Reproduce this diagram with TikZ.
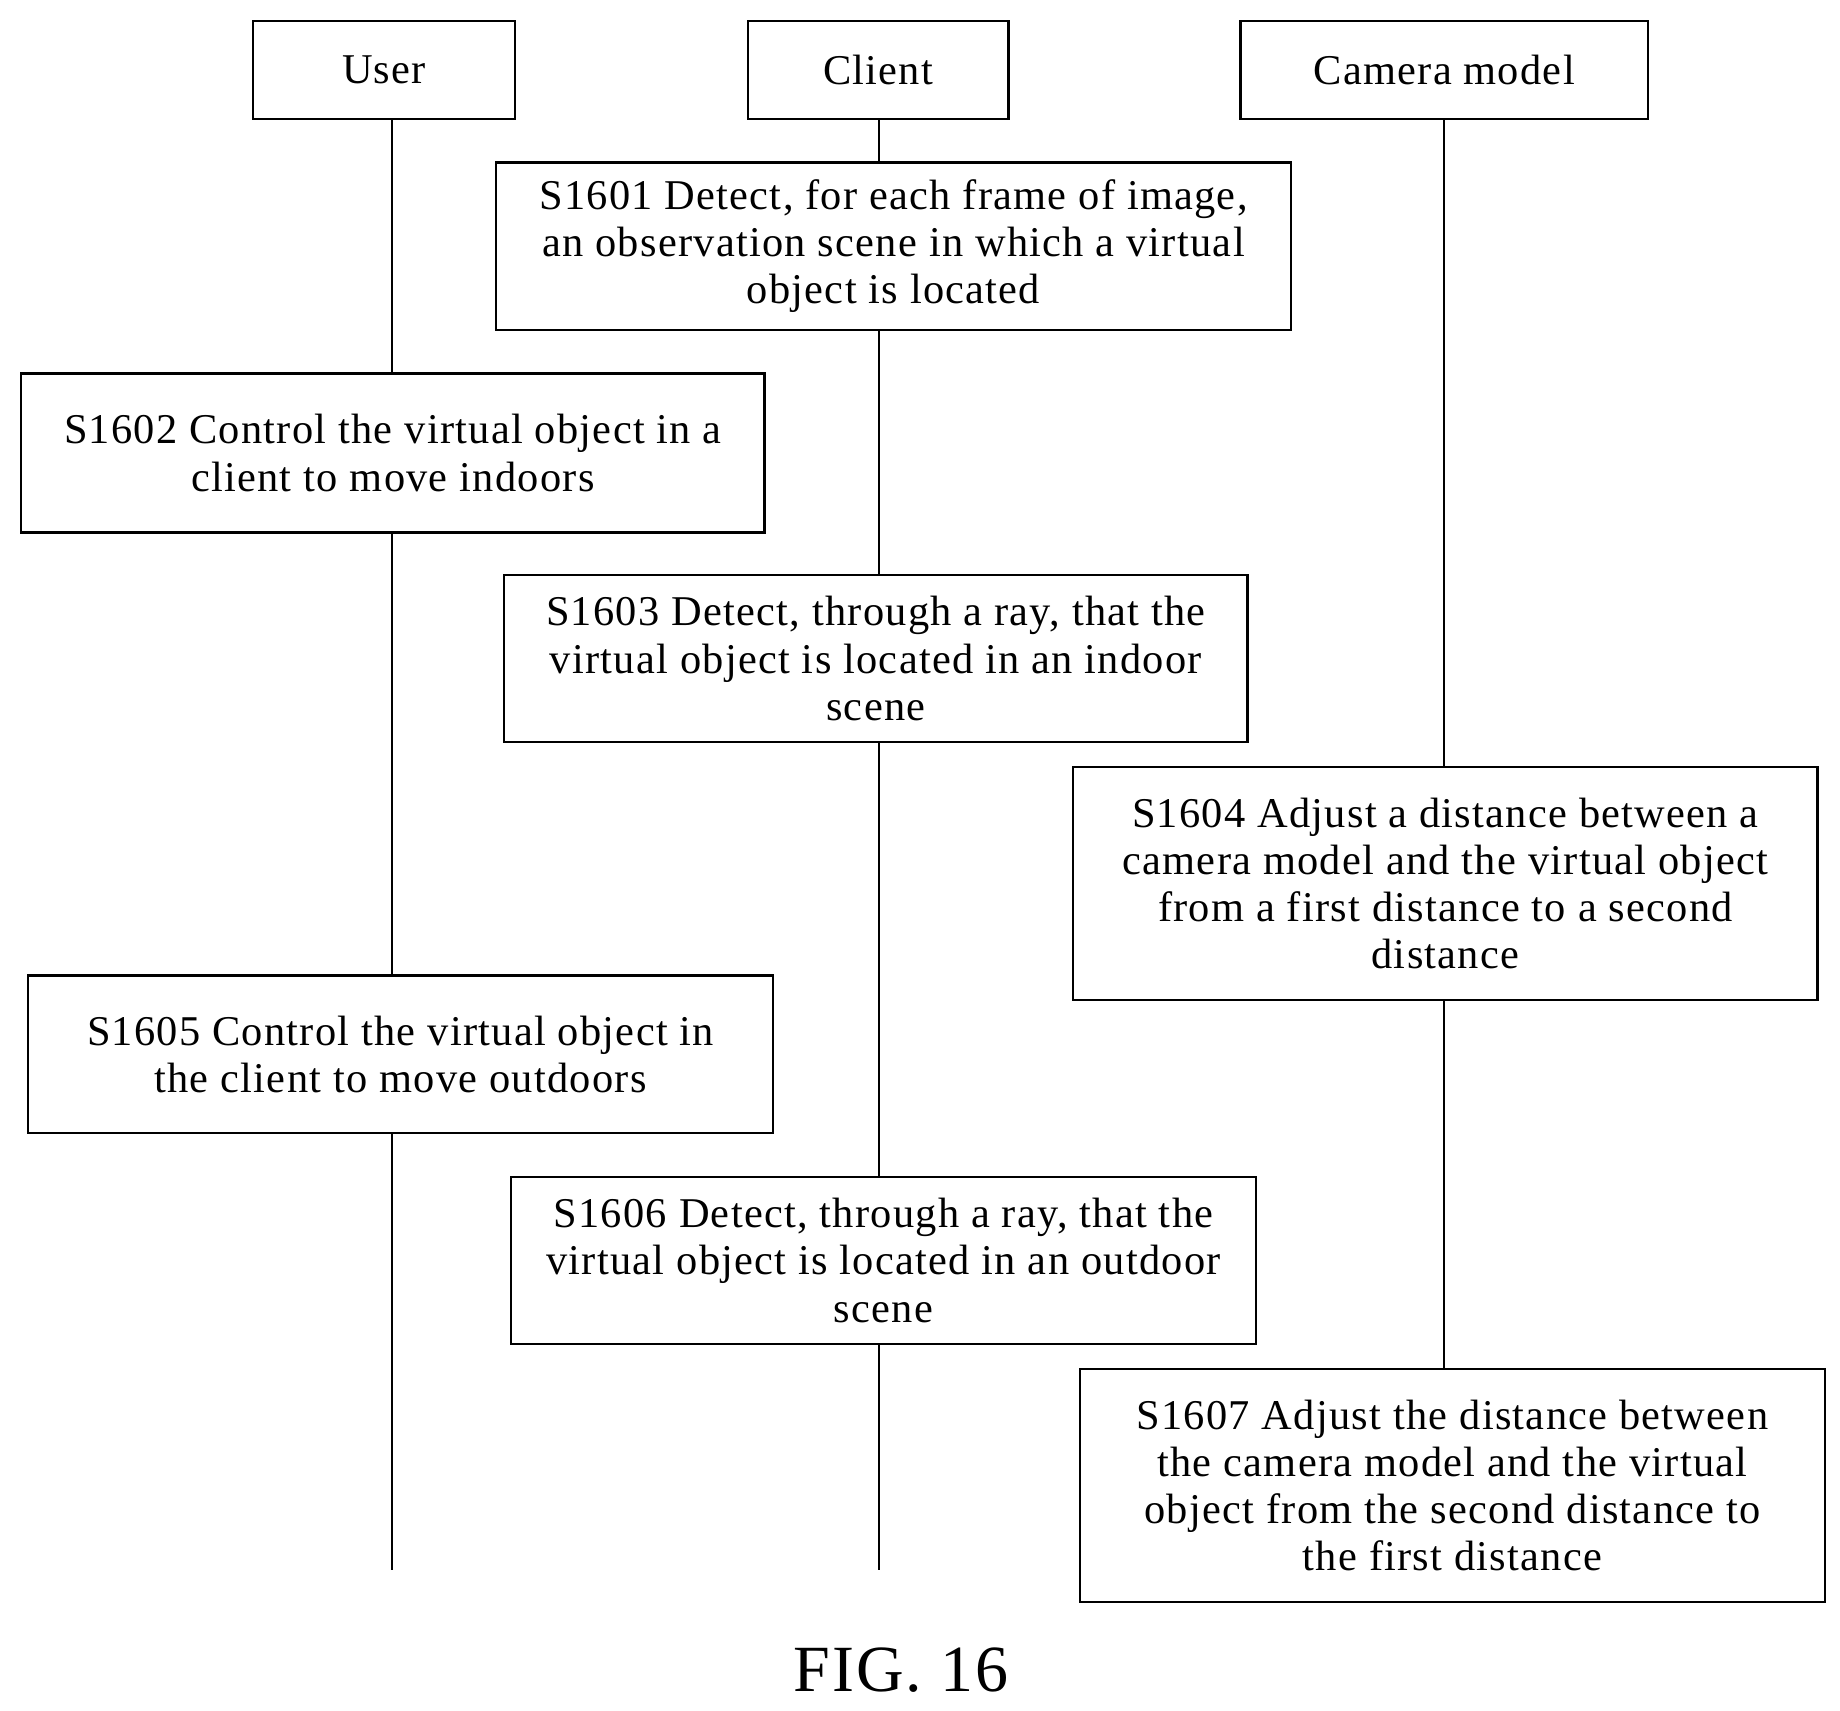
\documentclass[tikz,border=0pt]{standalone}
\usepackage{fontspec}
\setmainfont{Liberation Serif}[LetterSpace=3]
\begin{document}
\begin{tikzpicture}[x=1pt,y=-1pt,
  box/.style={draw,line width=2pt,fill=white,align=center,inner sep=0pt,font=\fontsize{36}{40}\selectfont},
  life/.style={line width=2pt}]
\useasboundingbox (0,0) rectangle (1562,1452);
\coordinate (ue) at (333,1333);
\coordinate (ce) at (746,1333);
\node[box,minimum width=222,minimum height=83] (user) at (326,59.5) {User};
\node[box,minimum width=221,minimum height=83] (client) at (745.5,59.5) {Client};
\node[box,minimum width=346,minimum height=83] (cam) at (1226,59.5) {Camera model};
\node[box,minimum width=675,minimum height=142] (s1) at (758.5,209) {S1601 Detect, for each frame of image,\\an observation scene in which a virtual\\object is located};
\node[box,minimum width=631,minimum height=135] (s2) at (333.5,384.5) {S1602 Control the virtual object in a\\client to move indoors};
\node[box,minimum width=631,minimum height=142] (s3) at (743.5,559) {S1603 Detect, through a ray, that the\\virtual object is located in an indoor\\scene};
\node[box,minimum width=632,minimum height=198] (s4) at (1227,750) {S1604 Adjust a distance between a\\camera model and the virtual object\\from a first distance to a second\\distance};
\node[box,minimum width=632,minimum height=134] (s5) at (340,895) {S1605 Control the virtual object in\\the client to move outdoors};
\node[box,minimum width=632,minimum height=142] (s6) at (750,1070) {S1606 Detect, through a ray, that the\\virtual object is located in an outdoor\\scene};
\node[box,minimum width=632,minimum height=198] (s7) at (1233,1261) {S1607 Adjust the distance between\\the camera model and the virtual\\object from the second distance to\\the first distance};
\draw[life] (user.south -| ue) -- (s2.north -| ue);
\draw[life] (s2.south -| ue) -- (s5.north -| ue);
\draw[life] (s5.south -| ue) -- (ue);
\draw[life] (client.south -| ce) -- (s1.north -| ce);
\draw[life] (s1.south -| ce) -- (s3.north -| ce);
\draw[life] (s3.south -| ce) -- (s6.north -| ce);
\draw[life] (s6.south -| ce) -- (ce);
\draw[life] (cam.south) -- (s4.north -| cam.south);
\draw[life] (s4.south -| cam.south) -- (s7.north -| cam.south);
\node[font=\fontsize{56}{60}\selectfont] (fig) at (765,1418) {FIG. 16};
\end{tikzpicture}
\end{document}
